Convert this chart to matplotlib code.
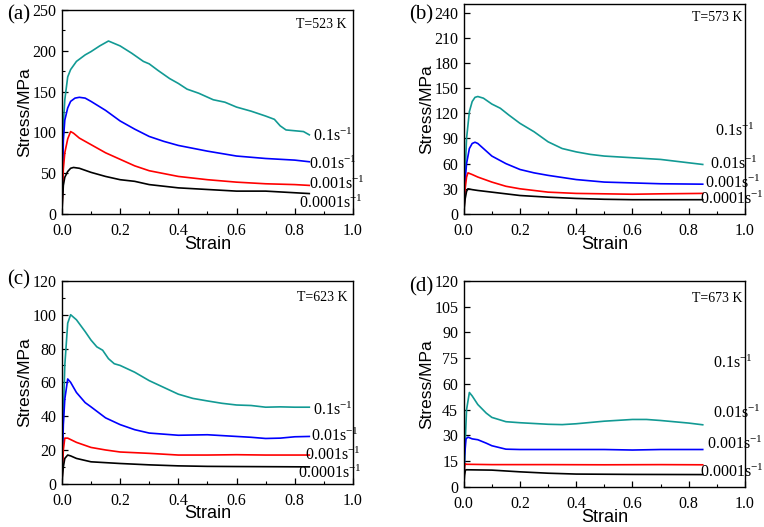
import numpy as np
import matplotlib as mpl
import matplotlib.pyplot as plt
from matplotlib.ticker import MultipleLocator

plt.rcParams['font.family'] = ['Liberation Serif', 'DejaVu Serif']
plt.rcParams['mathtext.fontset'] = 'custom'
plt.rcParams['mathtext.rm'] = 'Liberation Serif'
plt.rcParams['mathtext.it'] = 'Liberation Serif'

# strain rate labels (same order as curves: 0.1, 0.01, 0.001, 0.0001 s^-1)
rates = ['0.1', '0.01', '0.001', '0.0001']
temps = ['T=523 K', 'T=573 K', 'T=623 K', 'T=673 K']
panels = ['(a)', '(b)', '(c)', '(d)']

# ---- (a) T=523 K ----
eps_a1 = [0, 0.005, 0.01, 0.02, 0.03, 0.05, 0.08, 0.1, 0.13, 0.16, 0.2, 0.24, 0.28, 0.3,
          0.33, 0.37, 0.4, 0.43, 0.47, 0.52, 0.56, 0.6, 0.65, 0.7, 0.73, 0.75, 0.77, 0.8, 0.83, 0.85]
sig_a1 = [0, 110, 140, 168, 177, 187, 195, 199, 206, 212, 206, 197, 187, 184,
          176, 166, 160, 153, 148, 140, 137, 131, 126, 120, 116, 108, 103, 102, 101, 97]
eps_a2 = [0, 0.005, 0.01, 0.02, 0.03, 0.045, 0.06, 0.08, 0.1, 0.15, 0.2, 0.25, 0.3, 0.35,
          0.4, 0.5, 0.6, 0.7, 0.8, 0.85]
sig_a2 = [0, 90, 115, 130, 138, 142, 143, 142, 138, 127, 114, 104, 95, 89,
          84, 77, 71, 68, 66, 64]
eps_a3 = [0, 0.005, 0.01, 0.02, 0.03, 0.04, 0.06, 0.08, 0.1, 0.15, 0.2, 0.25, 0.3, 0.4,
          0.5, 0.6, 0.7, 0.8, 0.85]
sig_a3 = [0, 55, 75, 92, 101, 99, 93, 89, 85, 75, 67, 59, 53, 46,
          42, 39, 37, 36, 35]
eps_a4 = [0, 0.005, 0.01, 0.02, 0.03, 0.04, 0.06, 0.1, 0.15, 0.2, 0.25, 0.3, 0.4, 0.5,
          0.6, 0.7, 0.8, 0.85]
sig_a4 = [0, 35, 45, 52, 56, 57, 56, 51, 46, 42, 40, 36, 32, 30,
          28, 28, 26, 25]

# ---- (b) T=573 K ----
eps_b1 = [0, 0.005, 0.01, 0.02, 0.03, 0.04, 0.05, 0.07, 0.1, 0.13, 0.16, 0.2, 0.25, 0.3,
          0.35, 0.4, 0.45, 0.5, 0.6, 0.7, 0.75, 0.8, 0.85]
sig_b1 = [0, 50, 90, 122, 134, 139, 140, 138, 131, 126, 118, 108, 98, 86,
          78, 74, 71, 69, 67, 65, 63, 61, 59]
eps_b2 = [0, 0.005, 0.01, 0.02, 0.03, 0.04, 0.05, 0.07, 0.1, 0.15, 0.2, 0.25, 0.3, 0.4,
          0.5, 0.6, 0.7, 0.85]
sig_b2 = [0, 40, 60, 78, 84, 85.5, 84, 78, 69, 60, 53, 49, 46, 41,
          38, 37, 36, 35.5]
eps_b3 = [0, 0.005, 0.01, 0.015, 0.03, 0.05, 0.1, 0.15, 0.2, 0.3, 0.4, 0.5, 0.6, 0.7, 0.85]
sig_b3 = [0, 30, 44, 49, 47, 44, 38, 33, 30, 26, 24.5, 24, 23.5, 24, 24.5]
eps_b4 = [0, 0.005, 0.01, 0.015, 0.03, 0.05, 0.1, 0.2, 0.3, 0.4, 0.5, 0.6, 0.7, 0.85]
sig_b4 = [0, 18, 27, 30, 29, 28, 26, 22, 20, 18.5, 17.5, 17, 17, 17]

# ---- (c) T=623 K ----
eps_c1 = [0, 0.005, 0.01, 0.02, 0.03, 0.05, 0.08, 0.1, 0.12, 0.13, 0.14, 0.16, 0.18, 0.2,
          0.25, 0.3, 0.35, 0.4, 0.45, 0.5, 0.55, 0.6, 0.65, 0.7, 0.75, 0.8, 0.85]
sig_c1 = [0, 40, 70, 95, 100, 97, 90, 85, 81, 80, 79, 74, 71, 70,
          66, 61, 57, 53, 50.5, 49, 47.6, 46.6, 46.3, 45.3, 45.5, 45.3, 45.3]
eps_c2 = [0, 0.005, 0.01, 0.02, 0.03, 0.05, 0.08, 0.1, 0.15, 0.2, 0.25, 0.3, 0.4, 0.5,
          0.55, 0.6, 0.65, 0.7, 0.75, 0.8, 0.85]
sig_c2 = [0, 35, 50, 62, 60, 54, 48, 45.5, 39, 35, 32, 30, 28.7, 29,
          28.5, 28, 27.5, 26.8, 27, 27.8, 28]
eps_c3 = [0, 0.005, 0.01, 0.02, 0.05, 0.1, 0.15, 0.2, 0.3, 0.4, 0.5, 0.6, 0.7, 0.85]
sig_c3 = [0, 20, 27, 27, 24.5, 21.5, 20, 18.8, 18, 17, 17, 17.2, 17, 17]
eps_c4 = [0, 0.005, 0.01, 0.02, 0.03, 0.05, 0.08, 0.1, 0.2, 0.3, 0.4, 0.5, 0.6, 0.85]
sig_c4 = [0, 10, 15, 17, 16.5, 15, 13.8, 13, 12, 11.2, 10.6, 10.3, 10.2, 10]

# ---- (d) T=673 K ----
eps_d1 = [0, 0.005, 0.01, 0.02, 0.03, 0.05, 0.08, 0.1, 0.15, 0.2, 0.3, 0.35, 0.4, 0.5,
          0.6, 0.65, 0.7, 0.8, 0.85]
sig_d1 = [0, 25, 45, 55, 53, 48, 43, 40.5, 38, 37.4, 36.5, 36.3, 36.8, 38.3,
          39.3, 39.3, 38.7, 37.2, 36.2]
eps_d2 = [0, 0.003, 0.008, 0.015, 0.03, 0.05, 0.08, 0.1, 0.15, 0.2, 0.3, 0.5, 0.6, 0.7, 0.85]
sig_d2 = [0, 18, 28, 29, 28, 27.5, 25.5, 24, 22, 21.8, 21.8, 21.8, 21.5, 21.8, 21.8]
eps_d3 = [0, 0.003, 0.006, 0.01, 0.1, 0.3, 0.5, 0.7, 0.85]
sig_d3 = [0, 12, 13.5, 13.2, 13, 13, 12.9, 13, 12.9]
eps_d4 = [0, 0.003, 0.006, 0.01, 0.1, 0.2, 0.3, 0.4, 0.6, 0.85]
sig_d4 = [0, 7, 9.8, 10, 9.8, 8.8, 8, 7.5, 7.3, 7.2]

# label anchor points (strain, stress) for each rate label
lab_a = [(0.863, 95), (0.85, 61), (0.848, 36), (0.815, 13)]
lab_b = [(0.893, 98), (0.876, 59), (0.858, 37), (0.84, 18)]
lab_c = [(0.863, 43.5), (0.857, 28), (0.834, 17), (0.81, 6)]
lab_d = [(0.888, 72), (0.888, 43), (0.864, 25), (0.84, 8.5)]

colors = ['#129a94', '#0000ff', '#ff0000', '#000000']

fig = plt.figure(figsize=(7.64, 5.27), dpi=100)

# axes rectangles in figure fractions
rects = [[0.081, 0.594, 0.381, 0.387],
         [0.607, 0.594, 0.368, 0.398],
         [0.081, 0.082, 0.381, 0.385],
         [0.607, 0.076, 0.368, 0.391]]
ylims = [250, 250, 120, 120]
ymajor = [50, 30, 20, 15]
yminor = [25, None, 10, None]
yticks_max = [250, 240, 120, 120]

curves = [
    [(eps_a1, sig_a1), (eps_a2, sig_a2), (eps_a3, sig_a3), (eps_a4, sig_a4)],
    [(eps_b1, sig_b1), (eps_b2, sig_b2), (eps_b3, sig_b3), (eps_b4, sig_b4)],
    [(eps_c1, sig_c1), (eps_c2, sig_c2), (eps_c3, sig_c3), (eps_c4, sig_c4)],
    [(eps_d1, sig_d1), (eps_d2, sig_d2), (eps_d3, sig_d3), (eps_d4, sig_d4)],
]
labels = [lab_a, lab_b, lab_c, lab_d]
tpos = [(0.977, 0.93), (0.99, 0.937), (0.98, 0.918), (0.99, 0.916)]
ppos = [(0.009, 0.972), (0.535, 0.972), (0.009, 0.469), (0.535, 0.455)]

for i in range(4):
    ax = fig.add_axes(rects[i])
    for (x, y), c in zip(curves[i], colors):
        ax.plot(x, y, color=c, lw=1.2)
    for (lx, ly), r in zip(labels[i], rates):
        ax.text(lx, ly, r + 's$^{-1}$', fontsize=11.5, ha='left', va='center')
    ax.set_xlim(0, 1.0)
    ax.set_ylim(0, ylims[i])
    ax.set_xticks(np.arange(0, 1.01, 0.2))
    ax.xaxis.set_minor_locator(MultipleLocator(0.1))
    ax.set_yticks(np.arange(0, yticks_max[i] + 1, ymajor[i]))
    if yminor[i] is not None:
        ax.yaxis.set_minor_locator(MultipleLocator(yminor[i]))
    ax.tick_params(which='both', direction='in', top=False, right=False, labelsize=11.5)
    ax.tick_params(which='major', length=4, width=0.9)
    ax.tick_params(which='minor', length=2.5, width=0.8)
    ax.tick_params(axis='x', pad=6.5)
    ax.tick_params(axis='y', pad=4)
    for s in ax.spines.values():
        s.set_linewidth(1.0)
    ax.set_xlabel('Strain', fontsize=13, family='Liberation Sans', labelpad=-2.5)
    ax.set_ylabel('Stress/MPa', fontsize=12.5, family='Liberation Sans', labelpad=0)
    ax.text(tpos[i][0], tpos[i][1], temps[i], transform=ax.transAxes,
            ha='right', va='center', fontsize=10)
    fig.text(ppos[i][0], ppos[i][1], panels[i], ha='left', va='center', fontsize=15)

fig.savefig('out.png', dpi=100)
